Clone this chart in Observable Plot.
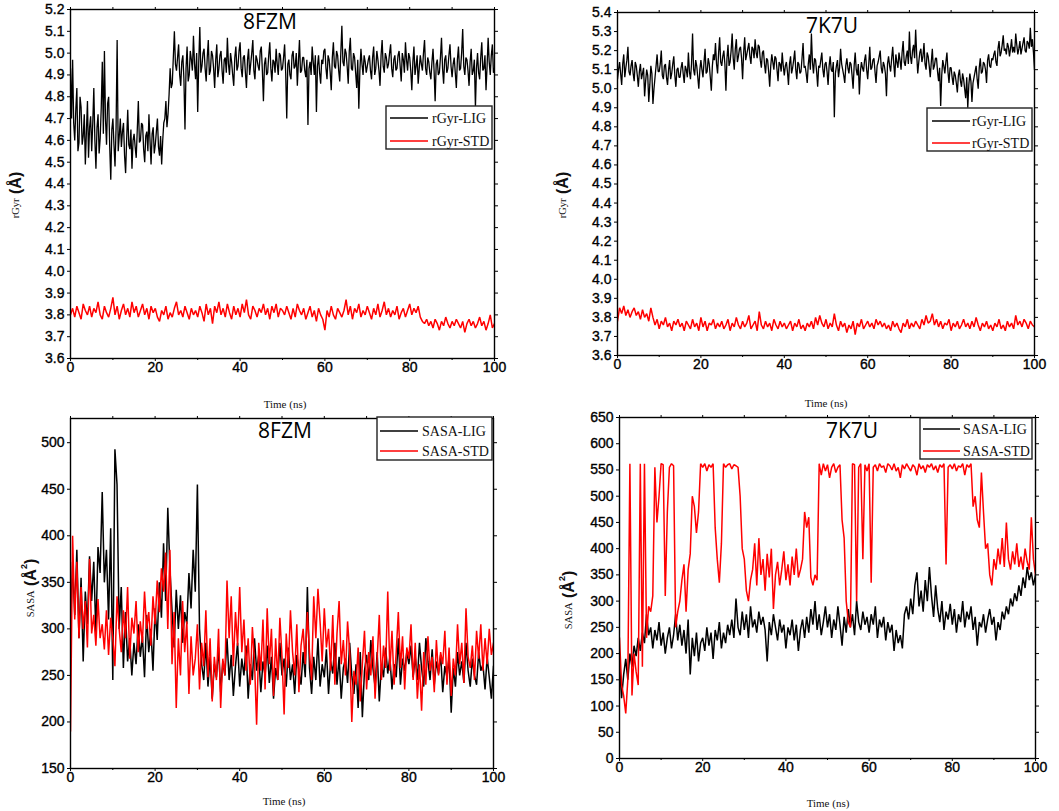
<!DOCTYPE html>
<html>
<head>
<meta charset="utf-8">
<script src="https://cdn.jsdelivr.net/npm/d3@7"></script>
<script src="https://cdn.jsdelivr.net/npm/@observablehq/plot@0.6"></script>
<style>
  html, body { margin: 0; padding: 0; background: #fff; }
  #wrap { position: relative; width: 1059px; height: 811px; overflow: hidden; background: #fff; }
  #wrap > svg { position: absolute; }
  .panel text { stroke: #000; stroke-width: 0.35px; }
</style>
</head>
<body>
<div id="wrap"></div>
<script>
// ---------- data ----------
// most series sampled every 0.5 ns; the two rGyr-LIG series every 0.25 ns
const timeNs = d3.range(0, 100.25, 0.5);      // 201 samples
const timeFineNs = d3.range(0, 100.125, 0.25); // 401 samples

const panelTitles = ["8FZM", "7K7U", "8FZM", "7K7U"];
const legendRgyr = ["rGyr-LIG", "rGyr-STD"];
const legendSasa = ["SASA-LIG", "SASA-STD"];
const xTickLabels = [0, 20, 40, 60, 80, 100];
const xMinorTicks = [10, 30, 50, 70, 90];
const yTicksRgyr8FZM = [3.6,3.7,3.8,3.9,4.0,4.1,4.2,4.3,4.4,4.5,4.6,4.7,4.8,4.9,5.0,5.1,5.2];
const yTicksRgyr7K7U = [3.6,3.7,3.8,3.9,4.0,4.1,4.2,4.3,4.4,4.5,4.6,4.7,4.8,4.9,5.0,5.1,5.2,5.3,5.4];
const yTicksSasa8FZM = [150,200,250,300,350,400,450,500];
const yTicksSasa7K7U = [0,50,100,150,200,250,300,350,400,450,500,550,600,650];

// rGyr 8FZM (0.25 ns)
const rgyrLig8FZM = [
4.93,4.70,4.97,4.68,4.60,4.74,4.84,4.55,4.59,4.80,4.75,4.58,4.62,4.72,4.49,4.64,4.78,4.52,4.66,4.71,
4.55,4.68,4.84,4.60,4.47,4.66,4.72,4.54,4.61,4.75,4.96,4.63,5.01,4.70,4.58,4.77,4.80,4.57,4.42,4.65,
4.70,4.58,4.48,4.66,5.06,4.55,4.62,4.70,4.57,4.64,4.68,4.53,4.45,4.61,4.74,4.58,4.56,4.65,4.47,4.60,
4.63,4.57,4.52,4.65,4.78,4.59,4.60,4.68,4.67,4.56,4.50,4.62,4.64,4.55,4.72,4.60,4.49,4.63,4.66,4.54,
4.58,4.64,4.70,4.57,4.53,4.62,4.49,4.60,4.68,4.70,4.78,4.66,4.72,4.81,4.93,4.84,4.86,4.98,5.10,4.95,
4.92,4.98,5.04,4.90,4.85,4.96,4.99,4.88,4.65,4.93,5.03,4.87,4.90,5.01,4.97,4.92,5.08,4.95,4.88,5.00,
4.73,4.96,5.12,4.91,4.94,5.00,5.02,4.93,4.87,4.98,5.06,4.90,4.92,5.01,4.99,4.93,4.84,4.97,5.04,4.89,
4.93,4.99,5.01,4.92,4.86,4.97,4.98,4.91,5.07,4.95,4.90,5.00,4.96,4.90,4.85,4.98,5.03,4.92,4.94,5.01,
5.05,4.93,4.89,4.98,4.99,4.91,4.84,4.97,5.02,4.90,4.95,5.00,5.06,4.92,4.88,4.99,4.97,4.94,4.92,5.01,
5.03,4.92,4.78,4.95,4.98,4.90,4.91,4.99,5.05,4.93,4.87,4.97,4.96,4.91,5.02,4.95,4.90,5.00,4.99,4.92,
4.93,4.98,5.04,4.91,4.70,4.95,4.97,4.90,4.88,4.99,5.01,4.93,4.94,5.00,4.85,4.96,5.06,4.91,4.92,4.98,
4.98,4.92,4.89,4.97,4.67,4.93,4.96,4.90,5.03,4.96,4.90,4.99,4.73,4.94,4.99,4.91,4.86,4.97,4.95,5.01,
5.02,4.93,4.88,4.99,4.97,4.91,4.83,4.98,5.05,4.94,4.93,5.01,4.99,4.92,4.87,5.00,5.125,4.96,4.94,5.02,
5.00,4.94,4.86,5.01,5.07,4.93,4.92,5.00,4.98,4.91,4.84,4.97,4.745,4.92,5.02,4.95,4.90,4.99,4.96,4.91,
4.94,4.97,4.99,4.92,4.88,4.98,5.03,4.90,4.93,5.01,4.97,4.92,4.85,4.99,5.06,4.94,4.91,5.00,4.98,4.93,
4.95,5.00,5.04,4.93,4.89,4.97,4.99,4.92,4.93,4.99,5.01,4.94,4.87,5.00,4.97,4.91,5.05,4.97,4.92,5.00,
4.98,4.92,4.83,4.96,5.03,4.90,4.94,4.99,4.86,4.93,4.99,4.95,4.92,5.00,5.06,4.93,4.90,4.98,4.96,4.91,
4.88,4.96,5.02,4.92,4.78,4.95,4.97,4.90,4.91,4.98,5.07,4.93,4.86,4.97,4.99,4.91,4.93,4.99,5.04,4.94,
4.89,4.95,4.98,4.91,4.84,4.97,5.03,4.92,4.93,5.00,5.11,4.94,4.90,4.98,4.97,4.92,4.85,4.96,5.02,4.90,
4.92,4.97,4.75,4.93,5.00,4.91,4.88,4.98,5.05,4.92,4.93,4.99,4.83,4.94,5.07,4.96,4.90,4.99,5.04,4.91,
4.93];
// rGyr 8FZM STD (0.5 ns)
const rgyrStd8FZM = [
3.80,3.83,3.79,3.84,3.81,3.78,3.85,3.82,3.80,3.84,
3.79,3.83,3.81,3.86,3.80,3.78,3.84,3.81,3.79,3.83,
3.88,3.80,3.84,3.78,3.82,3.85,3.80,3.83,3.79,3.86,
3.81,3.84,3.79,3.82,3.85,3.80,3.83,3.78,3.84,3.81,
3.83,3.79,3.77,3.82,3.80,3.84,3.78,3.81,3.79,3.83,
3.86,3.80,3.82,3.79,3.84,3.81,3.78,3.83,3.80,3.82,
3.79,3.84,3.81,3.77,3.85,3.80,3.83,3.76,3.84,3.81,
3.86,3.80,3.83,3.79,3.85,3.81,3.78,3.84,3.80,3.83,
3.79,3.85,3.81,3.87,3.80,3.78,3.84,3.82,3.79,3.83,
3.81,3.85,3.80,3.83,3.78,3.84,3.81,3.85,3.79,3.83,
3.82,3.80,3.84,3.81,3.78,3.83,3.79,3.85,3.82,3.80,
3.83,3.78,3.81,3.84,3.79,3.82,3.77,3.83,3.80,3.78,
3.73,3.82,3.79,3.84,3.80,3.78,3.83,3.81,3.79,3.82,
3.87,3.80,3.84,3.78,3.83,3.81,3.85,3.79,3.82,3.80,
3.84,3.81,3.78,3.83,3.80,3.85,3.79,3.82,3.86,3.80,
3.83,3.79,3.82,3.80,3.84,3.78,3.81,3.83,3.79,3.82,
3.85,3.80,3.83,3.81,3.84,3.79,3.77,3.76,3.78,3.75,
3.77,3.74,3.78,3.76,3.73,3.77,3.75,3.79,3.76,3.74,
3.77,3.75,3.78,3.76,3.74,3.77,3.72,3.76,3.78,3.75,
3.77,3.74,3.76,3.79,3.75,3.77,3.73,3.76,3.80,3.74,
3.76];

// rGyr 7K7U (0.25 ns)
const rgyrLig7K7U = [
5.05,5.10,5.14,5.08,5.02,5.13,5.18,5.06,5.11,5.15,5.22,5.09,5.07,5.12,5.15,5.08,5.04,5.14,5.12,5.07,
5.01,5.09,5.13,5.05,5.08,5.11,4.96,5.04,5.10,5.07,4.93,5.02,5.12,5.08,4.92,5.00,5.06,5.12,5.18,5.09,
5.09,5.13,5.20,5.07,5.05,5.12,5.13,5.06,5.02,5.10,5.15,5.05,5.08,5.13,5.17,5.07,5.01,5.10,5.11,5.06,
5.06,5.11,5.14,5.08,5.03,5.12,5.10,5.06,5.19,5.09,5.05,5.13,5.29,5.10,5.07,5.15,5.12,5.06,5.00,5.10,
5.15,5.10,5.06,5.14,5.21,5.08,5.09,5.16,5.13,5.06,4.99,5.12,5.18,5.15,5.24,5.13,5.08,5.19,5.27,5.14,
5.12,5.17,5.20,5.13,4.99,5.16,5.23,5.12,5.14,5.20,5.29,5.16,5.10,5.21,5.26,5.14,5.17,5.21,5.22,5.16,
5.05,5.19,5.27,5.15,5.18,5.21,5.24,5.17,5.13,5.22,5.21,5.16,5.26,5.19,5.16,5.23,5.22,5.15,5.11,5.19,
5.20,5.13,5.08,5.16,5.15,5.09,5.01,5.12,5.18,5.14,5.10,5.17,5.16,5.10,5.04,5.14,5.13,5.09,5.19,5.12,
5.07,5.12,5.14,5.09,5.02,5.13,5.17,5.08,5.11,5.15,5.20,5.10,5.05,5.14,5.13,5.08,5.09,5.16,5.24,5.11,
5.12,5.08,5.03,5.13,5.18,5.10,5.29,5.14,5.08,5.16,5.15,5.09,5.01,5.12,5.11,5.15,5.19,5.10,5.06,5.13,
5.14,5.09,5.02,5.12,5.17,5.10,5.09,5.14,4.85,5.08,5.12,5.15,5.06,5.11,5.21,5.13,5.10,5.07,5.03,5.12,
5.16,5.11,5.08,5.14,5.13,5.07,5.00,5.12,5.19,5.10,5.07,5.13,4.97,5.09,5.14,5.11,5.09,5.15,5.18,5.10,
5.05,5.13,5.22,5.10,5.11,5.15,5.16,5.09,5.03,5.12,5.14,5.17,5.20,5.11,5.08,5.14,5.12,5.08,4.96,5.13,
5.17,5.12,5.09,5.16,5.22,5.13,5.06,5.18,5.14,5.11,5.19,5.15,5.10,5.19,5.25,5.14,5.12,5.17,5.20,5.13,
5.30,5.17,5.13,5.20,5.23,5.16,5.31,5.18,5.08,5.14,5.19,5.21,5.14,5.17,5.24,5.13,5.10,5.19,5.17,5.12,
5.06,5.14,5.21,5.10,5.12,5.16,5.16,5.09,5.04,5.11,4.91,5.07,5.15,5.12,5.08,5.14,5.19,5.09,5.03,5.11,
5.11,5.06,5.02,5.09,5.07,5.03,4.98,5.07,5.10,5.04,5.01,5.08,5.05,5.00,4.95,5.06,4.90,5.02,5.08,5.04,
4.93,5.03,5.06,5.09,5.12,5.05,5.00,5.11,5.16,5.08,5.09,5.14,5.13,5.10,5.03,5.15,5.18,5.12,5.11,5.16,
5.15,5.18,5.20,5.14,5.12,5.21,5.25,5.17,5.19,5.23,5.28,5.20,5.21,5.18,5.24,5.22,5.17,5.21,5.26,5.19,
5.22,5.19,5.29,5.23,5.18,5.21,5.25,5.18,5.21,5.24,5.27,5.20,5.19,5.25,5.24,5.21,5.32,5.22,5.26,5.19,
5.10];
// rGyr 7K7U STD (0.5 ns)
const rgyrStd7K7U = [
3.78,3.85,3.82,3.86,3.81,3.84,3.80,3.83,3.85,3.81,
3.83,3.79,3.84,3.80,3.82,3.78,3.85,3.80,3.76,3.79,
3.74,3.78,3.76,3.80,3.75,3.77,3.73,3.78,3.76,3.79,
3.75,3.77,3.73,3.78,3.76,3.74,3.79,3.75,3.77,3.73,
3.80,3.75,3.78,3.73,3.77,3.76,3.79,3.74,3.77,3.75,
3.78,3.74,3.76,3.79,3.73,3.77,3.75,3.80,3.76,3.74,
3.78,3.75,3.77,3.81,3.74,3.76,3.78,3.73,3.83,3.76,
3.74,3.78,3.75,3.77,3.73,3.79,3.76,3.74,3.78,3.75,
3.77,3.74,3.76,3.78,3.73,3.77,3.75,3.79,3.74,3.76,
3.73,3.77,3.75,3.78,3.74,3.80,3.76,3.81,3.77,3.75,
3.79,3.74,3.77,3.75,3.82,3.76,3.73,3.78,3.75,3.77,
3.72,3.76,3.74,3.78,3.71,3.77,3.75,3.79,3.74,3.76,
3.78,3.75,3.77,3.74,3.79,3.76,3.78,3.75,3.77,3.74,
3.76,3.73,3.78,3.75,3.77,3.74,3.72,3.77,3.75,3.79,
3.74,3.77,3.75,3.78,3.76,3.74,3.79,3.76,3.81,3.77,
3.78,3.82,3.76,3.79,3.75,3.78,3.74,3.77,3.76,3.79,
3.73,3.77,3.75,3.78,3.74,3.76,3.79,3.75,3.77,3.74,
3.78,3.75,3.80,3.76,3.73,3.77,3.75,3.78,3.74,3.76,
3.73,3.77,3.75,3.79,3.74,3.76,3.73,3.78,3.75,3.77,
3.74,3.81,3.76,3.78,3.75,3.79,3.77,3.74,3.78,3.76,
3.75];

// SASA 8FZM (0.5 ns)
const sasaLig8FZM = [
300,372,315,385,290,355,265,340,305,378,
330,372,295,388,360,447,350,385,310,408,
245,493,455,300,345,258,318,265,290,250,
285,262,305,270,292,248,315,275,300,255,
322,288,350,312,392,330,430,365,320,280,
342,300,336,285,318,305,360,322,385,340,
455,300,262,245,285,238,270,225,262,248,
280,232,265,250,290,245,272,228,260,285,
238,268,250,282,225,262,245,290,255,272,
232,265,250,282,242,270,225,258,245,285,
250,268,238,280,245,262,230,272,255,240,
275,248,345,258,230,270,245,290,238,262,
248,278,230,265,252,285,240,270,225,258,
268,242,285,250,230,262,215,275,205,255,
272,245,288,258,238,275,222,262,248,280,
252,270,235,262,248,290,240,268,255,275,
262,282,248,270,245,285,258,238,290,265,
245,278,240,265,252,272,232,260,248,270,
210,258,238,275,250,265,242,285,255,238,
268,250,240,275,255,262,235,270,248,225,
260];
const sasaStd8FZM = [
190,400,310,372,290,345,300,330,280,375,
295,315,282,332,290,305,278,320,272,312,
290,260,335,300,275,320,290,345,268,312,
295,330,275,308,285,340,300,318,282,335,
305,352,318,365,340,382,300,385,262,318,
215,290,250,330,275,308,230,292,250,268,
305,235,285,260,320,248,290,222,270,245,
300,215,268,250,352,290,335,260,318,282,
345,275,310,255,290,240,302,265,197,285,
255,310,235,322,262,300,228,290,245,312,
270,208,295,258,320,275,250,305,232,282,
300,262,318,275,245,335,290,343,308,265,
322,280,300,255,315,240,295,330,262,288,
250,308,275,200,255,240,280,222,262,298,
235,275,250,292,225,268,315,245,282,258,
340,255,298,240,275,318,258,292,235,280,
268,305,245,285,225,262,212,275,240,292,
255,270,232,288,250,275,262,298,240,280,
228,268,250,305,262,285,242,322,270,258,
282,245,298,268,305,255,290,262,300,272,
285];

// SASA 7K7U (0.5 ns)
const sasaLig7K7U = [
180,115,160,190,150,200,175,215,195,230,
205,240,220,275,235,250,210,245,225,260,
215,240,200,230,250,210,235,275,225,255,
215,245,200,265,160,230,195,240,185,220,
230,205,250,215,240,190,245,225,260,210,
240,220,255,235,265,230,305,250,235,280,
245,275,230,290,250,265,240,280,255,270,
245,185,260,235,275,250,225,265,240,255,
210,250,235,265,225,255,205,245,265,230,
270,240,285,255,300,245,275,235,260,290,
250,275,230,265,245,290,255,215,270,240,
285,250,275,235,300,260,245,280,255,270,
240,275,255,290,230,265,250,270,225,260,
240,255,205,245,220,235,210,275,290,265,
305,275,330,355,290,320,280,340,300,365,
310,270,330,285,260,300,245,280,265,295,
255,285,240,275,260,300,250,280,265,290,
245,270,215,260,250,275,240,265,285,255,
270,225,260,245,280,265,290,275,305,290,
315,300,330,310,345,325,365,340,355,330,
350];
const sasaStd7K7U = [
230,140,120,86,150,562,120,200,165,140,
562,175,562,230,290,280,310,555,450,500,
562,560,310,470,555,562,558,250,280,300,
340,370,280,360,390,500,480,430,470,562,
555,562,548,560,555,562,440,380,335,410,
562,555,560,562,552,560,558,555,500,400,
380,320,300,340,360,410,330,420,350,380,
320,390,345,400,285,350,375,330,360,395,
340,370,330,385,350,400,345,360,380,470,
440,460,345,330,350,340,562,540,562,548,
560,535,555,562,545,555,560,455,420,300,
260,250,562,560,300,555,562,380,560,548,
562,335,555,560,548,562,555,558,545,562,
558,550,562,548,555,535,560,552,562,555,
548,560,555,540,562,552,558,545,560,555,
562,550,558,545,560,555,562,370,555,560,
552,562,548,558,555,562,540,560,555,562,
480,500,455,440,545,470,400,410,350,330,
380,360,400,370,420,365,450,380,360,395,
370,410,365,385,360,400,375,360,460,380,
350];

// ---------- drawing ----------
const wrap = d3.select("#wrap");
const tickFont = "'Liberation Sans', Arial, sans-serif";
const blank = () => "";

function seriesLine(values, times, color, width) {
  return Plot.line(values, { x: (d, i) => times[i], y: d => d, stroke: color, strokeWidth: width, strokeLinejoin: "miter", clip: true });
}

function makePanel(cfg) {
  const chart = Plot.plot({
    width: cfg.w, height: cfg.h,
    marginLeft: cfg.ml, marginRight: cfg.mr, marginTop: cfg.mt, marginBottom: cfg.mb,
    style: { fontFamily: tickFont, fontSize: "14px", color: "#000", background: "transparent", overflow: "visible" },
    x: { domain: [0, 100] },
    y: { domain: cfg.yDomain },
    marks: [
      seriesLine(cfg.black, cfg.blackTime, "#000", cfg.blackWidth),
      seriesLine(cfg.red, timeNs, "#ff0000", 1.5),
      Plot.frame({ stroke: "#000", strokeWidth: 1.4 }),
      Plot.axisX(xTickLabels, { anchor: "bottom", tickSize: 3, tickPadding: 1, label: null, tickFormat: d3.format("d") }),
      Plot.axisX(xMinorTicks, { anchor: "bottom", tickSize: 2, tickFormat: blank, label: null }),
      Plot.axisX(xTickLabels.concat(xMinorTicks), { anchor: "top", tickSize: 3, tickFormat: blank, label: null }),
      Plot.axisY(cfg.yTicks, { anchor: "left", tickSize: 3, tickPadding: 3, tickFormat: cfg.yFmt, label: null }),
      Plot.axisY(cfg.yTicks, { anchor: "right", tickSize: 3, tickFormat: blank, label: null })
    ]
  });
  d3.select(chart).classed("panel", true).style("left", cfg.left + "px").style("top", cfg.top + "px");
  wrap.node().appendChild(chart);
}

const fmt1 = d3.format(".1f");
const fmt0 = d3.format("d");

makePanel({ left: 0, top: 0, w: 530, h: 400, ml: 70, mr: 36, mt: 9, mb: 42,
  yDomain: [3.6, 5.2], yTicks: yTicksRgyr8FZM, yFmt: fmt1,
  black: rgyrLig8FZM, blackTime: timeFineNs, blackWidth: 1.3, red: rgyrStd8FZM });
makePanel({ left: 530, top: 0, w: 529, h: 400, ml: 87, mr: 25, mt: 12, mb: 45,
  yDomain: [3.6, 5.4], yTicks: yTicksRgyr7K7U, yFmt: fmt1,
  black: rgyrLig7K7U, blackTime: timeFineNs, blackWidth: 1.3, red: rgyrStd7K7U });
makePanel({ left: 0, top: 400, w: 530, h: 411, ml: 70, mr: 37, mt: 18, mb: 43,
  yDomain: [150, 526], yTicks: yTicksSasa8FZM, yFmt: fmt0,
  black: sasaLig8FZM, blackTime: timeNs, blackWidth: 1.5, red: sasaStd8FZM });
makePanel({ left: 530, top: 400, w: 529, h: 411, ml: 89, mr: 24, mt: 17, mb: 53,
  yDomain: [0, 650], yTicks: yTicksSasa7K7U, yFmt: fmt0,
  black: sasaLig7K7U, blackTime: timeNs, blackWidth: 1.5, red: sasaStd7K7U });

// ---------- annotations overlay: titles, axis labels, legends ----------
const ov = wrap.append("svg").attr("width", 1059).attr("height", 811).style("left", 0).style("top", 0);

const titlePos = [[270, 29], [832, 33], [285, 438], [852, 438]];
panelTitles.forEach((t, i) => {
  ov.append("text").attr("x", titlePos[i][0]).attr("y", titlePos[i][1])
    .attr("text-anchor", "middle").attr("font-family", "'Open Sans', 'Noto Sans', sans-serif")
    .attr("font-size", 21).attr("fill", "#000").text(t);
});

const timePos = [[285, 408], [826, 407], [284, 805], [828, 807]];
timePos.forEach(p => {
  ov.append("text").attr("x", p[0]).attr("y", p[1]).attr("text-anchor", "middle")
    .attr("font-family", "'Liberation Serif', 'Times New Roman', serif").attr("font-size", 11)
    .attr("fill", "#111").text("Time (ns)");
});

function yLabel(cx, cy, name, sup) {
  const t = ov.append("text").attr("transform", `translate(${cx},${cy}) rotate(-90)`)
    .attr("text-anchor", "middle").attr("dominant-baseline", "middle").attr("fill", "#111");
  t.append("tspan").attr("font-family", "'Liberation Serif', 'Times New Roman', serif").attr("font-size", 10.5).text(name);
  t.append("tspan").attr("font-family", tickFont).attr("font-weight", "bold").attr("font-size", 16).text(" (Å");
  if (sup) t.append("tspan").attr("font-family", tickFont).attr("font-weight", "bold").attr("font-size", 9).attr("dy", -7).text(sup);
  t.append("tspan").attr("font-family", tickFont).attr("font-weight", "bold").attr("font-size", 16).attr("dy", sup ? 7 : 0).text(")");
}
yLabel(17, 195, "rGyr", null);
yLabel(564, 195, "rGyr", null);
yLabel(32, 588, "SASA", "2");
yLabel(570, 600, "SASA", "2");

function legend(x, y, w, h, lx1, lx2, ly, tx, labels) {
  ov.append("rect").attr("x", x).attr("y", y).attr("width", w).attr("height", h)
    .attr("fill", "#fff").attr("stroke", "#222").attr("stroke-width", 1.4);
  const cols = ["#000", "#ff0000"];
  labels.forEach((lab, i) => {
    ov.append("line").attr("x1", lx1).attr("x2", lx2).attr("y1", ly[i]).attr("y2", ly[i])
      .attr("stroke", cols[i]).attr("stroke-width", 1.3);
    ov.append("text").attr("x", tx).attr("y", ly[i] + 5)
      .attr("font-family", "'Liberation Serif', 'Times New Roman', serif").attr("font-size", 14)
      .attr("fill", "#111").text(lab);
  });
}
legend(386, 106, 106, 43, 390, 428, [118, 141], 432, legendRgyr);
legend(927, 108, 105, 43, 932, 970, [121, 143], 972, legendRgyr);
legend(377, 417, 115, 43, 380, 418, [431, 451], 422, legendSasa);
legend(920, 418, 112, 41, 923, 960, [429, 451], 963, legendSasa);
</script>
</body>
</html>
